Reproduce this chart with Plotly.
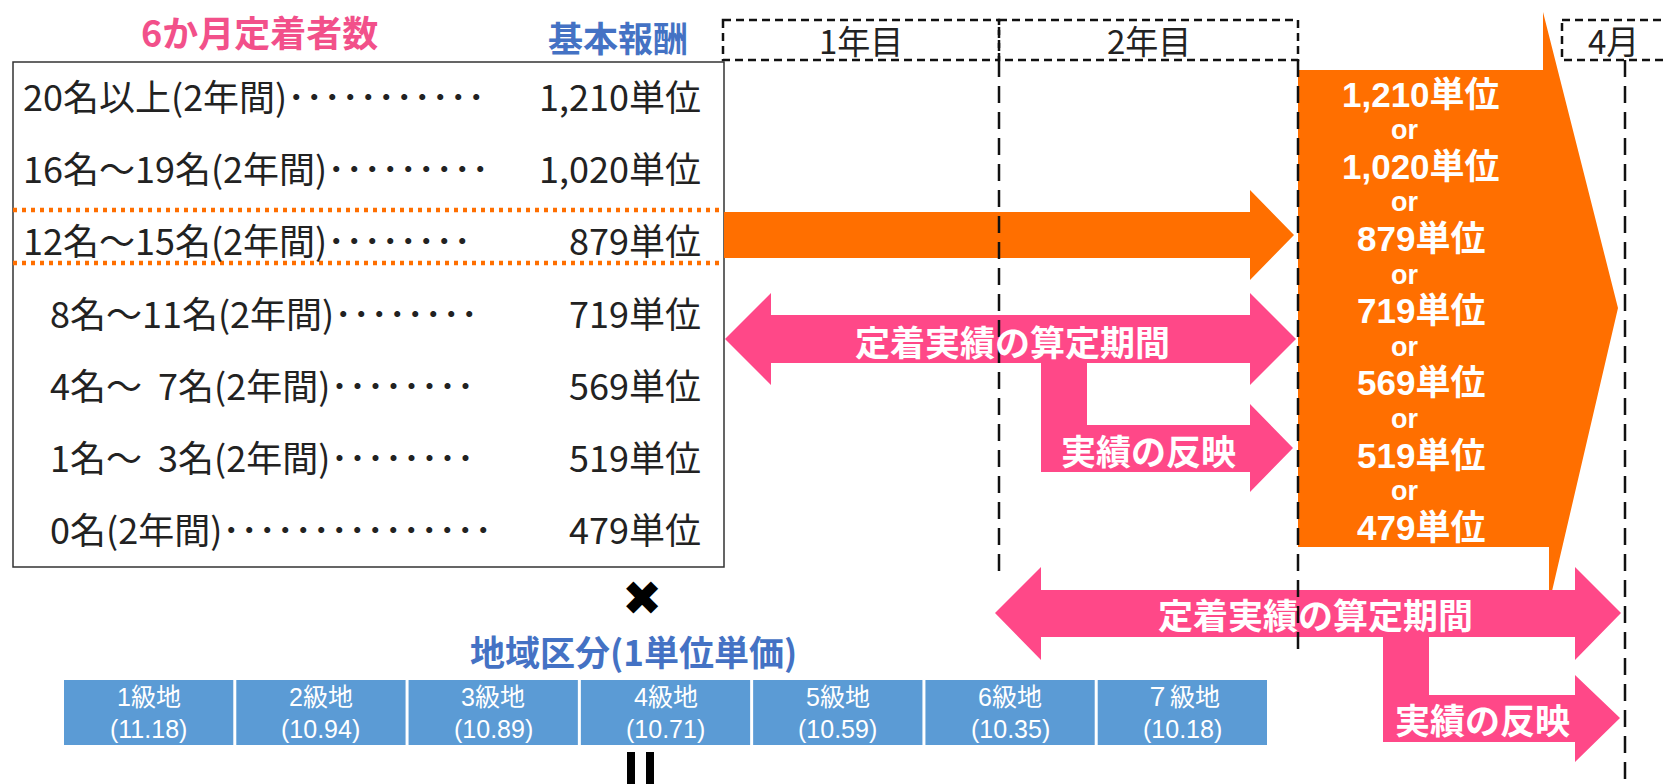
import plotly.graph_objects as go

# ---------------- data ----------------
group_labels = ["20名以上(2年間)", "16名～19名(2年間)", "12名～15名(2年間)",
                "8名～11名(2年間)", "4名～\u00a0\u00a07名(2年間)", "1名～\u00a0\u00a03名(2年間)", "0名(2年間)"]
dot_counts = [11, 9, 8, 8, 8, 8, 15]
base_units = [1210, 1020, 879, 719, 569, 519, 479]
grade_names = ["1級地", "2級地", "3級地", "4級地", "5級地", "6級地", "７級地"]
unit_prices = [11.18, 10.94, 10.89, 10.71, 10.59, 10.35, 10.18]
period_headers = ["1年目", "2年目", "4月"]
arrow_period_text = "定着実績の算定期間"
arrow_reflect_text = "実績の反映"
or_text = "or"
title_left = "6か月定着者数"
title_right = "基本報酬"
region_title = "地域区分(1単位単価)"

# ---------------- styles ----------------
W, H = 1663, 784
FONT = "Noto Sans CJK JP"
LAT = "Liberation Sans, Noto Sans CJK JP"
ORANGE = "#FF6F00"
PINK = "#FF4888"
BLUE_BOX = "#5B9BD5"
TITLE_PINK = "#F2508A"
TITLE_BLUE = "#4472C4"
TXT = "#222222"

def path(pts):
    return "M " + " L ".join(f"{x},{y}" for x, y in pts) + " Z"

shapes = []
ann = []

def poly(pts, color):
    shapes.append(dict(type="path", path=path(pts), fillcolor=color,
                       line=dict(width=0), layer="above"))

def text(x, y, s, size, color=TXT, xanchor="center", bold=False, family=FONT):
    if bold:
        s = f"<b>{s}</b>"
    ann.append(dict(x=x, y=y, xref="x", yref="y", text=s, showarrow=False,
                    xanchor=xanchor, yanchor="middle",
                    font=dict(family=family, size=size, color=color)))

# ---------------- left table ----------------
box_l, box_t, box_r, box_b = 13, 62, 724, 567
shapes.append(dict(type="rect", x0=box_l, y0=box_t, x1=box_r, y1=box_b,
                   line=dict(color="#333333", width=1.5), fillcolor="rgba(0,0,0,0)"))
row_y0, row_step = 95, 72.2
row_ys = [row_y0 + i * row_step for i in range(len(base_units))]
for i, (lab, nd, v) in enumerate(zip(group_labels, dot_counts, base_units)):
    lx = 21 if i < 3 else 48
    text(lx, row_ys[i], lab + "･" * nd, 36, xanchor="left")
    text(703, row_ys[i], f"{v:,}単位", 36, xanchor="right")

for yy in (210, 263):
    shapes.append(dict(type="line", x0=box_l, x1=box_r, y0=yy, y1=yy,
                       line=dict(color=ORANGE, width=4.5, dash="4px,5px")))

text(259, 31, title_left, 36, TITLE_PINK, bold=True)
text(618, 36, title_right, 35, TITLE_BLUE, bold=True)

# ---------------- arrows ----------------
poly([(724, 212), (1250, 212), (1250, 190), (1294, 235), (1250, 280),
      (1250, 258), (724, 258)], ORANGE)
poly([(1298, 70), (1543, 70), (1543, 12), (1618, 308), (1549, 604),
      (1549, 547), (1298, 547)], ORANGE)

poly([(725, 339), (771, 293), (771, 315), (1250, 315), (1250, 293), (1296, 339),
      (1250, 385), (1250, 363), (771, 363), (771, 385)], PINK)
poly([(1041, 360), (1087, 360), (1087, 425), (1250, 425), (1250, 404), (1293, 448),
      (1250, 492), (1250, 472), (1041, 472)], PINK)
poly([(995, 613), (1041, 567), (1041, 590), (1575, 590), (1575, 567), (1621, 613),
      (1575, 660), (1575, 637), (1041, 637), (1041, 660)], PINK)
poly([(1383, 634), (1429, 634), (1429, 695), (1575, 695), (1575, 675), (1620, 718),
      (1575, 762), (1575, 742), (1383, 742)], PINK)

# ---------------- dashed frames ----------------
hdr_boxes = [(723, 999), (999, 1298), (1562, 1690)]
for (x0, x1) in hdr_boxes:
    shapes.append(dict(type="rect", x0=x0, x1=x1, y0=20, y1=60,
                       line=dict(color="#111111", width=2.5, dash="8px,5px"),
                       fillcolor="rgba(0,0,0,0)"))
text(861, 40, period_headers[0], 33)
text(1149, 40, period_headers[1], 33)
text(1613, 40, period_headers[2], 33)

for xx, yb in ((999, 577), (1298, 657), (1625, 784)):
    shapes.append(dict(type="line", x0=xx, x1=xx, y0=60, y1=yb,
                       line=dict(color="#111111", width=2.5, dash="17px,9px")))

# ---------------- texts on arrows ----------------
text(1012, 340, arrow_period_text, 35, "white", bold=True)
text(1148, 449, arrow_reflect_text, 35, "white", bold=True)
text(1315, 613, arrow_period_text, 35, "white", bold=True)
text(1482, 718, arrow_reflect_text, 35, "white", bold=True)

# orange block values
for i, v in enumerate(base_units):
    text(1421, row_ys[i] - 1, f"{v:,}単位", 35, "white", bold=True, family=LAT)
    if i < len(base_units) - 1:
        text(1404, row_ys[i] + row_step / 2 - 1, or_text, 27, "white", bold=True,
             family="Liberation Sans")

# ---------------- bottom: region grades ----------------
text(642, 598, "✖", 48, "#000000", family="DejaVu Sans")
text(633, 650, region_title, 35, TITLE_BLUE, bold=True)

gx0, gx1, gap = 64, 1267, 3
bw = (gx1 - gx0 - gap * (len(grade_names) - 1)) / len(grade_names)
for i, (g, p) in enumerate(zip(grade_names, unit_prices)):
    x0 = gx0 + i * (bw + gap)
    shapes.append(dict(type="rect", x0=x0, x1=x0 + bw, y0=680, y1=745,
                       fillcolor=BLUE_BOX, line=dict(width=0), layer="below"))
    text(x0 + bw / 2, 697, g, 25, "white", family=LAT)
    text(x0 + bw / 2, 729, f"({p:.2f})", 25, "white", family=LAT)

for bx in (627, 646):
    shapes.append(dict(type="rect", x0=bx, x1=bx + 8, y0=752, y1=790,
                       fillcolor="#000000", line=dict(width=0)))

fig = go.Figure()
fig.add_trace(go.Scatter(x=[0], y=[0], mode="markers", marker=dict(opacity=0),
                         hoverinfo="skip", showlegend=False))
fig.update_layout(
    width=W, height=H, margin=dict(l=0, r=0, t=0, b=0),
    paper_bgcolor="white", plot_bgcolor="white",
    xaxis=dict(range=[0, W], visible=False, fixedrange=True),
    yaxis=dict(range=[H, 0], visible=False, fixedrange=True),
    shapes=shapes, annotations=ann, showlegend=False,
)
fig.write_html("out.html", config={"displayModeBar": False},
               post_script="document.body.style.margin='0';document.body.style.overflow='hidden';")
